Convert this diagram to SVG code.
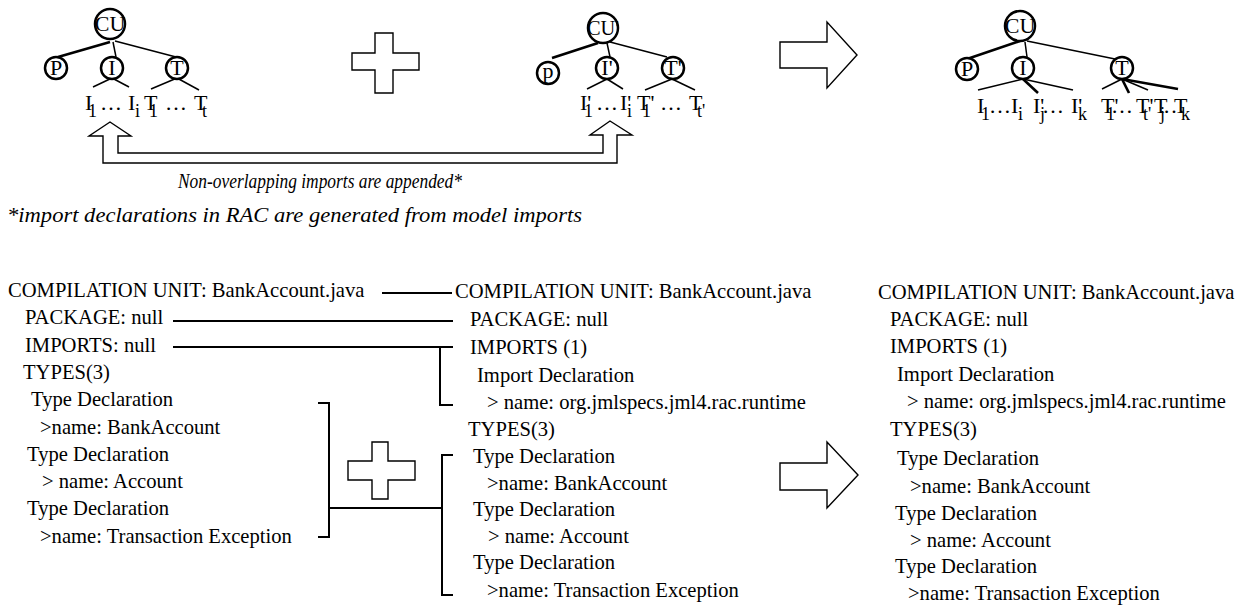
<svg xmlns="http://www.w3.org/2000/svg" width="1245" height="606" viewBox="0 0 1245 606">
<style>
text{font-family:"Liberation Serif","Times New Roman",serif;fill:#000}
.n{font-size:22px;text-anchor:middle}
.lbl{font-size:22px}
.sub{font-size:18px}
.b{font-size:20.6px}
.cap{font-size:21px;font-style:italic}
.c{fill:#fff;stroke:#000;stroke-width:2.5}
.e{stroke:#000;stroke-width:1.5;fill:none}
.et{stroke:#000;stroke-width:2.6;fill:none}
.k{stroke:#000;stroke-width:2;fill:none}
.sh{fill:#fff;stroke:#000;stroke-width:1.4;stroke-linejoin:miter}
</style>
<rect width="1245" height="606" fill="#fff"/>

<g id="connectors">
  <!-- left tree -->
  <line class="et" x1="110" y1="42" x2="58" y2="57"/>
  <line class="e" x1="113" y1="42" x2="116" y2="57"/>
  <line class="e" x1="115" y1="41" x2="176" y2="57"/>
  <line class="e" x1="112" y1="78" x2="93" y2="87"/>
  <line class="e" x1="112" y1="78" x2="129" y2="87"/>
  <line class="e" x1="177" y1="78" x2="151" y2="89"/>
  <line class="e" x1="177" y1="78" x2="199" y2="90"/>
  <!-- middle tree -->
  <line class="et" x1="598" y1="43" x2="552" y2="58"/>
  <line class="e" x1="607" y1="43" x2="610" y2="57"/>
  <line class="e" x1="610" y1="42" x2="667" y2="57"/>
  <line class="e" x1="607" y1="79" x2="587" y2="89"/>
  <line class="e" x1="607" y1="79" x2="623" y2="89"/>
  <line class="e" x1="672" y1="79" x2="645" y2="90"/>
  <line class="e" x1="672" y1="79" x2="695" y2="90"/>
  <!-- right tree -->
  <line class="et" x1="1020" y1="41" x2="967" y2="59"/>
  <line class="e" x1="1025" y1="42" x2="1027" y2="57"/>
  <line class="e" x1="1027" y1="41" x2="1115" y2="59"/>
  <line class="e" x1="1023" y1="79" x2="978" y2="90"/>
  <line class="et" x1="1023" y1="79" x2="1038" y2="93"/>
  <line class="e" x1="1023" y1="79" x2="1073" y2="90"/>
  <line class="e" x1="1122" y1="79" x2="1102" y2="89"/>
  <line class="et" x1="1122" y1="79" x2="1129" y2="93"/>
  <line class="e" x1="1122" y1="79" x2="1148" y2="90"/>
  <line class="et" x1="1122" y1="79" x2="1178" y2="89"/>
  <!-- bottom connectors -->
  <line class="k" x1="382" y1="293" x2="452" y2="293"/>
  <line class="k" x1="173" y1="321" x2="453" y2="321"/>
  <path class="k" d="M173,347 H453 M440,347 V405 H453"/>
  <path class="k" d="M318,403 H329 V537 H318"/>
  <line class="k" x1="329" y1="508" x2="442" y2="508"/>
  <path class="k" d="M453,455 H442 V595 H453"/>
</g>

<g id="shapes">
  <path id="plus-top" class="sh" d="M375,33 H393 V53 H419 V70 H393 V93 H375 V70 H352 V53 H375 Z"/>
  <path id="plus-bottom" class="sh" d="M372,442 H388 V461 H415 V480 H388 V499 H372 V480 H348 V461 H372 Z"/>
  <path id="arrow-top" class="sh" d="M780,42 H827 V22 L857,55 L827,88 V68 H780 Z"/>
  <path id="arrow-bottom" class="sh" d="M780,463 H827 V442 L858,475 L827,508 V490 H780 Z"/>
  <path id="u-arrow" class="sh" d="M89,136 H103 V163 H617 V135 H632 L610,121 L590,135 H603 V153 H118 V136 H131 L110,122 Z"/>
</g>

<!-- left tree nodes -->
<g id="l-cu"><circle class="c" cx="110" cy="24" r="15"/><text class="n" x="110" y="31">CU</text></g>
<g id="l-p"><circle class="c" cx="56" cy="68" r="11"/><text class="n" x="56" y="75">P</text></g>
<g id="l-i"><circle class="c" cx="112" cy="68" r="11"/><text class="n" x="112" y="75">I</text></g>
<g id="l-t"><circle class="c" cx="177" cy="68" r="11"/><text class="n" x="177" y="75">T</text></g>
<g id="l-leaves"><text class="lbl"><tspan x="85" y="110">I</tspan><tspan class="sub" x="88" y="117">1</tspan><tspan x="100" y="110">…</tspan><tspan x="128" y="110">I</tspan><tspan class="sub" x="135" y="117">i</tspan><tspan x="144" y="110">T</tspan><tspan class="sub" x="149" y="117">1</tspan><tspan x="165" y="110">…</tspan><tspan x="194" y="110">T</tspan><tspan class="sub" x="202" y="117">t</tspan></text></g>

<!-- middle tree nodes -->
<g id="m-cu"><circle class="c" cx="603" cy="28" r="15"/><text class="n" x="603" y="35" font-size="21" textLength="32" lengthAdjust="spacingAndGlyphs">CU'</text></g>
<g id="m-p"><circle class="c" cx="548" cy="73" r="11"/><text class="n" x="548" y="78">p</text></g>
<g id="m-i"><circle class="c" cx="607" cy="68" r="11"/><text class="n" x="607" y="75">I'</text></g>
<g id="m-t"><circle class="c" cx="673" cy="68" r="11"/><text class="n" x="673" y="75">T'</text></g>
<g id="m-leaves"><text class="lbl"><tspan x="580" y="110">I'</tspan><tspan class="sub" x="584" y="117">1</tspan><tspan x="596" y="110">…</tspan><tspan x="620" y="110">I'</tspan><tspan class="sub" x="627" y="117">i</tspan><tspan x="637" y="110">T'</tspan><tspan class="sub" x="642" y="117">1</tspan><tspan x="660" y="110">…</tspan><tspan x="689" y="110">T</tspan><tspan class="sub" x="697" y="117">t'</tspan></text></g>

<!-- right tree nodes -->
<g id="r-cu"><circle class="c" cx="1020" cy="26" r="15"/><text class="n" x="1020" y="33">CU</text></g>
<g id="r-p"><circle class="c" cx="967" cy="69" r="11"/><text class="n" x="967" y="76">P</text></g>
<g id="r-i"><circle class="c" cx="1023" cy="68" r="11"/><text class="n" x="1023" y="75">I</text></g>
<g id="r-t"><circle class="c" cx="1122" cy="68" r="11"/><text class="n" x="1122" y="75">T</text></g>
<g id="r-leaves"><text class="lbl"><tspan x="977" y="113">I</tspan><tspan class="sub" x="981" y="120">1</tspan><tspan x="989" y="113">…</tspan><tspan x="1011" y="113">I</tspan><tspan class="sub" x="1018" y="120">i</tspan><tspan x="1033" y="113">I'</tspan><tspan class="sub" x="1040" y="120">j</tspan><tspan x="1042" y="113">…</tspan><tspan x="1071" y="113">I'</tspan><tspan class="sub" x="1078" y="120">k</tspan><tspan x="1101" y="113">T'</tspan><tspan class="sub" x="1106" y="120">1</tspan><tspan x="1111" y="113">…</tspan><tspan x="1136" y="113">T'</tspan><tspan class="sub" x="1143" y="120">t'</tspan><tspan x="1154" y="113">T</tspan><tspan class="sub" x="1160" y="120">j</tspan><tspan x="1163" y="113">…</tspan><tspan x="1174" y="113">T</tspan><tspan class="sub" x="1181" y="120">k</tspan></text></g>

<g id="captions">
  <text class="cap" x="178" y="188" textLength="284" lengthAdjust="spacingAndGlyphs">Non-overlapping imports are appended*</text>
  <text class="cap" x="7" y="222" textLength="575" lengthAdjust="spacingAndGlyphs">*import declarations in RAC are generated from model imports</text>
</g>

<g id="col-left">
  <text class="b" x="8" y="297">COMPILATION UNIT: BankAccount.java</text>
  <text class="b" x="25" y="324">PACKAGE: null</text>
  <text class="b" x="25" y="352">IMPORTS: null</text>
  <text class="b" x="23" y="379">TYPES(3)</text>
  <text class="b" x="31" y="406">Type Declaration</text>
  <text class="b" x="40" y="434">&gt;name: BankAccount</text>
  <text class="b" x="27" y="461">Type Declaration</text>
  <text class="b" x="42" y="488">&gt; name: Account</text>
  <text class="b" x="27" y="515">Type Declaration</text>
  <text class="b" x="40" y="543">&gt;name: Transaction Exception</text>
</g>

<g id="col-middle">
  <text class="b" x="455" y="298">COMPILATION UNIT: BankAccount.java</text>
  <text class="b" x="470" y="326">PACKAGE: null</text>
  <text class="b" x="470" y="354">IMPORTS (1)</text>
  <text class="b" x="477" y="382">Import Declaration</text>
  <text class="b" x="487" y="409">&gt; name: org.jmlspecs.jml4.rac.runtime</text>
  <text class="b" x="468" y="436">TYPES(3)</text>
  <text class="b" x="473" y="463">Type Declaration</text>
  <text class="b" x="487" y="490">&gt;name: BankAccount</text>
  <text class="b" x="473" y="516">Type Declaration</text>
  <text class="b" x="488" y="543">&gt; name: Account</text>
  <text class="b" x="473" y="569">Type Declaration</text>
  <text class="b" x="487" y="597">&gt;name: Transaction Exception</text>
</g>

<g id="col-right">
  <text class="b" x="878" y="299">COMPILATION UNIT: BankAccount.java</text>
  <text class="b" x="890" y="326">PACKAGE: null</text>
  <text class="b" x="890" y="353">IMPORTS (1)</text>
  <text class="b" x="897" y="381">Import Declaration</text>
  <text class="b" x="907" y="408">&gt; name: org.jmlspecs.jml4.rac.runtime</text>
  <text class="b" x="890" y="436">TYPES(3)</text>
  <text class="b" x="897" y="465">Type Declaration</text>
  <text class="b" x="910" y="493">&gt;name: BankAccount</text>
  <text class="b" x="895" y="520">Type Declaration</text>
  <text class="b" x="910" y="547">&gt; name: Account</text>
  <text class="b" x="895" y="573">Type Declaration</text>
  <text class="b" x="908" y="600">&gt;name: Transaction Exception</text>
</g>
</svg>
